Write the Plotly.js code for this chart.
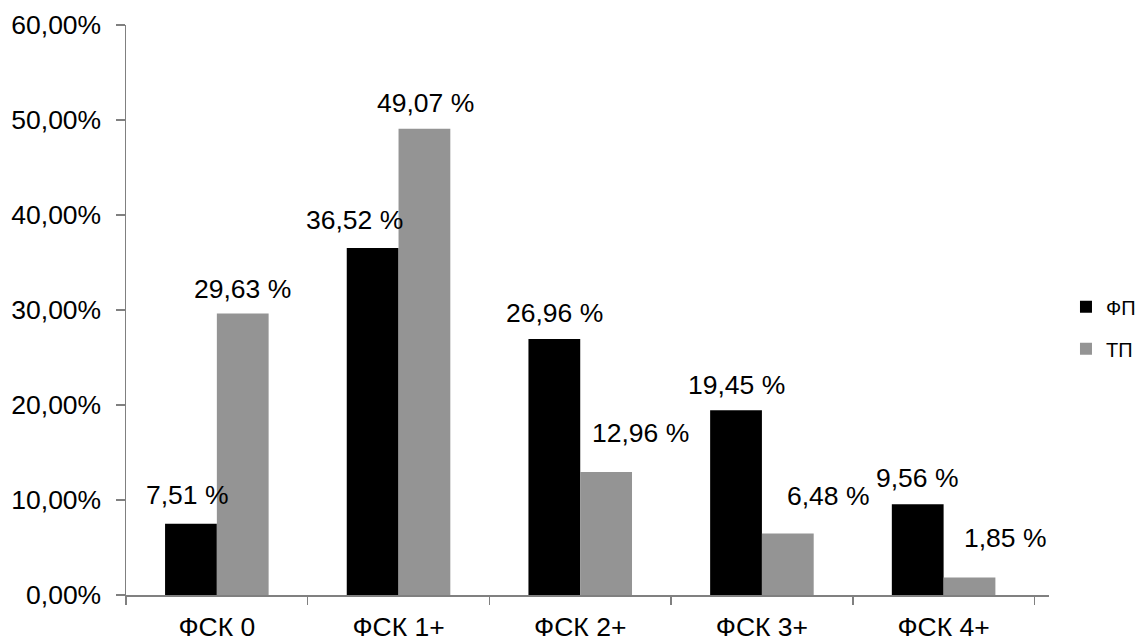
<!DOCTYPE html>
<html>
<head>
<meta charset="utf-8">
<script src="https://cdn.plot.ly/plotly-3.0.1.min.js"></script>
<style>
  html, body { margin: 0; padding: 0; background: #ffffff; }
  #chart { width: 1140px; height: 640px; }
</style>
</head>
<body>
<div id="chart"></div>
<script>
// Distribution by ФСК group, percent
const categories = ['ФСК 0', 'ФСК 1+', 'ФСК 2+', 'ФСК 3+', 'ФСК 4+'];
const fpValues = [7.51, 36.52, 26.96, 19.45, 9.56];
const tpValues = [29.63, 49.07, 12.96, 6.48, 1.85];
const seriesNames = ['ФП', 'ТП'];

// Manual nudges of the value labels, in pixels
const fpLabelShift = { x: [-3, -18, 0, 0, 0], y: [29, 28, 26, 25, 26] };
const tpLabelShift = { x: [0, 1, 34, 41, 36], y: [25, 26, 39, 37, 39] };

const FONT = '"Liberation Sans", Arial, Helvetica, sans-serif';
const AXIS_COLOR = '#808080';
const BAR_GAP = 0.43;
const halfOffset = (1 - BAR_GAP) / 4;

function fmt(v) {
  return v.toFixed(2).replace('.', ',') + ' %';
}

const traces = [
  {
    type: 'bar', name: seriesNames[0], legendgroup: 'a',
    x: categories, y: fpValues.map(v => v / 100),
    marker: { color: '#000000' }, hoverinfo: 'skip'
  },
  {
    type: 'bar', name: seriesNames[1], legendgroup: 'b',
    x: categories, y: tpValues.map(v => v / 100),
    marker: { color: '#949494' }, hoverinfo: 'skip'
  }
];

const annotations = [];
function addLabels(values, shift, side) {
  values.forEach((v, i) => {
    annotations.push({
      x: i + side * halfOffset, y: v / 100, xref: 'x', yref: 'y',
      text: fmt(v), showarrow: false,
      xanchor: 'center', yanchor: 'middle',
      xshift: shift.x[i], yshift: shift.y[i],
      font: { family: FONT, size: 26.5, color: '#000000' }
    });
  });
}
addLabels(fpValues, fpLabelShift, -1);
addLabels(tpValues, tpLabelShift, 1);

const layout = {
  width: 1140, height: 640,
  margin: { l: 126, r: 91, t: 25, b: 45, pad: 0, autoexpand: false },
  paper_bgcolor: '#ffffff', plot_bgcolor: '#ffffff',
  separators: ', ',
  font: { family: FONT, size: 26.5, color: '#000000' },
  barmode: 'group', bargap: BAR_GAP, bargroupgap: 0,
  showlegend: true,
  legend: {
    x: 1.0184, xanchor: 'left', y: 0.54, yanchor: 'top',
    font: { family: FONT, size: 20, color: '#000000' },
    traceorder: 'grouped', tracegroupgap: 13,
    bgcolor: 'rgba(0,0,0,0)', borderwidth: 0
  },
  xaxis: {
    type: 'category', automargin: false,
    showline: true, linecolor: AXIS_COLOR, linewidth: 1.5,
    ticks: 'outside', tickson: 'boundaries', ticklen: 8, tickwidth: 1.5, tickcolor: AXIS_COLOR,
    ticklabelstandoff: 8,
    showgrid: false, zeroline: false,
    tickfont: { family: FONT, size: 26.5, color: '#000000' }
  },
  yaxis: {
    range: [0, 0.6], dtick: 0.1, tick0: 0, tickformat: '.2%', automargin: false,
    showline: true, linecolor: AXIS_COLOR, linewidth: 1.5,
    ticks: 'outside', ticklen: 9, tickwidth: 1.5, tickcolor: AXIS_COLOR,
    ticklabelstandoff: 9,
    showgrid: false, zeroline: false,
    tickfont: { family: FONT, size: 26.5, color: '#000000' }
  },
  annotations: annotations
};

Plotly.newPlot('chart', traces, layout, { staticPlot: true, displayModeBar: false });
</script>
</body>
</html>
